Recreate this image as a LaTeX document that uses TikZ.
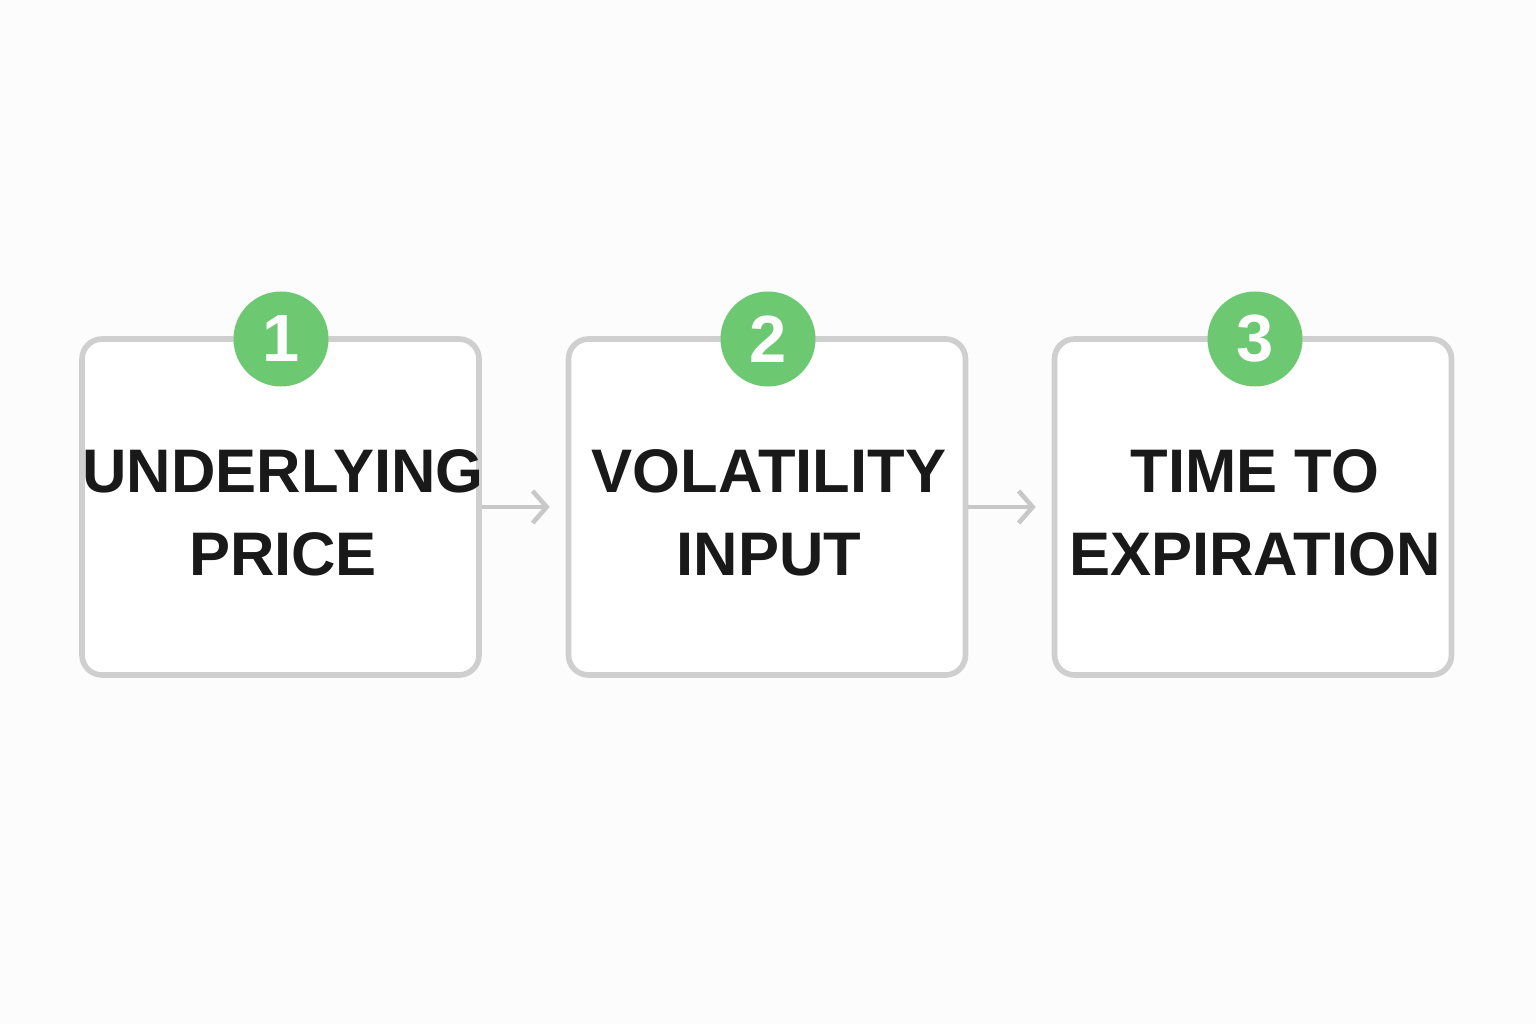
\documentclass[tikz,border=0pt]{standalone}
\usepackage{fontspec}
\setmainfont{Liberation Sans}
\usetikzlibrary{arrows.meta}
\definecolor{boxgray}{HTML}{CFCFCF}
\definecolor{stepgreen}{HTML}{6CC871}
\definecolor{arrowgray}{HTML}{C8C8C8}

\begin{document}
\begin{tikzpicture}
\tikzstyle{card} = [rectangle, draw = boxgray, line width = 1.6pt, rounded corners = 0.2cm, fill = white, minimum width = 3.97cm, minimum height = 3.36cm]
\tikzstyle{label} = [align = center, font = \fontsize{17.5}{23.5}\selectfont\bfseries, text = black!90]
\tikzstyle{badge} = [circle, fill = stepgreen, minimum size = 0.95cm, inner sep = 0pt, text = white, font = \fontsize{19}{19}\selectfont\bfseries]
\tikzstyle{link} = [-{Straight Barb[length=0.14cm, width=0.32cm]}, draw = arrowgray, line width = 1.3pt, shorten > = 0.16cm]
\fill[white!99!black] (0, 0) rectangle (15.36, 10.24);
\useasboundingbox (0, 0) rectangle (15.36, 10.24);
% -----------------------------------
% Cards
\node[card] (c1) at (2.805, 5.17) {};
\node[card] (c2) at (7.67, 5.17) {};
\node[card] (c3) at (12.53, 5.17) {};

\node[label] (t1) at (2.83, 5.11) {UNDERLYING\\PRICE};
\node[label] (t2) at (7.69, 5.11) {VOLATILITY\\INPUT};
\node[label] (t3) at (12.55, 5.11) {TIME TO\\EXPIRATION};
% -----------------------------------
% Step numbers
\node[badge] (b1) at (2.81, 6.85) {1};
\node[badge] (b2) at (7.68, 6.85) {2};
\node[badge] (b3) at (12.55, 6.85) {3};
% -----------------------------------
% Arrows
\draw[link] (c1.east) -- (c2.west);
\draw[link] (c2.east) -- (c3.west);
% -----------------------------------
\end{tikzpicture}
\end{document}
